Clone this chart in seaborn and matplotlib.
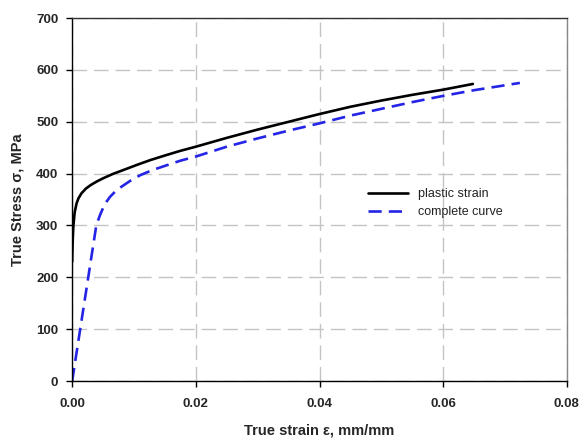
import matplotlib
matplotlib.use("Agg")
import matplotlib.pyplot as plt
import seaborn as sns
import pandas as pd

# Data
plastic_strain = [0.0, 0.00005, 0.0001, 0.0002, 0.0004, 0.0007, 0.001, 0.0015,
                  0.0022, 0.003, 0.004, 0.005, 0.0065, 0.0085, 0.0105, 0.0126,
                  0.015, 0.0175, 0.02, 0.025, 0.03, 0.035, 0.04, 0.045,
                  0.05, 0.055, 0.06, 0.0648]
plastic_stress = [230, 255, 275, 300, 325, 342, 352, 362,
                  371, 378, 385, 391, 399, 408, 417, 426,
                  435, 444, 452, 469, 485, 500, 515, 529,
                  541, 552, 562, 573]

complete_strain = [0.0, 0.0013, 0.0026, 0.0039, 0.0045, 0.005, 0.0055, 0.0061,
                   0.007, 0.008, 0.0095, 0.011, 0.013, 0.015, 0.0175, 0.02,
                   0.025, 0.03, 0.035, 0.04, 0.045, 0.05, 0.055, 0.06,
                   0.065, 0.0724]
complete_stress = [0, 100, 200, 300, 320, 334, 345, 355,
                   366, 375, 387, 397, 407, 415, 425, 433,
                   452, 468, 483, 497, 512, 525, 538, 550,
                   561, 575]

series_names = ["plastic strain", "complete curve"]
x_ticks = [0.00, 0.02, 0.04, 0.06, 0.08]
y_ticks = [0, 100, 200, 300, 400, 500, 600, 700]

df = pd.concat([
    pd.DataFrame({"strain": plastic_strain, "stress": plastic_stress, "series": series_names[0]}),
    pd.DataFrame({"strain": complete_strain, "stress": complete_stress, "series": series_names[1]}),
], ignore_index=True)

sns.set_theme(style="white")
plt.rcParams["font.family"] = ["Liberation Sans", "DejaVu Sans"]

fig = plt.figure(figsize=(5.82, 4.42), dpi=100)
ax = fig.add_axes([0.124, 0.138, 0.850, 0.821])

sns.lineplot(data=df, x="strain", y="stress", hue="series", style="series",
             palette={series_names[0]: "black", series_names[1]: "#2424e6"},
             dashes={series_names[0]: "", series_names[1]: (5, 2.7)},
             sort=False, estimator=None, linewidth=1.9, ax=ax)

ax.set_xlim(0, 0.08)
ax.set_ylim(0, 700)
ax.set_xticks(x_ticks)
ax.set_yticks(y_ticks)
ax.set_xticklabels([f"{t:.2f}" for t in x_ticks], fontweight="bold", fontsize=9.5)
ax.set_yticklabels([str(t) for t in y_ticks], fontweight="bold", fontsize=9.5)

ax.grid(True, color="#c4c4c4", linestyle=(0, (10.5, 5)), linewidth=1.0)
ax.set_axisbelow(True)

for side, col in [("left", "black"), ("bottom", "black"), ("top", "#333333"), ("right", "#888888")]:
    ax.spines[side].set_visible(True)
    ax.spines[side].set_color(col)
    ax.spines[side].set_linewidth(1.0)

ax.tick_params(axis="both", which="major", direction="out", length=4, width=1,
               color="black", bottom=True, left=True, pad=6)
ax.tick_params(axis="x", pad=8)

ax.set_xlabel("True strain ε, mm/mm", fontweight="bold", fontsize=10.5, labelpad=10)
ax.set_ylabel("True Stress σ, MPa", fontweight="bold", fontsize=10.5, labelpad=8)

leg = ax.legend(loc="center left", bbox_to_anchor=(0.575, 0.49), frameon=False,
                fontsize=9, handlelength=3.2, labelspacing=0.5)
for t in leg.get_texts():
    t.set_color("#222222")

fig.savefig("out.png", dpi=100)
